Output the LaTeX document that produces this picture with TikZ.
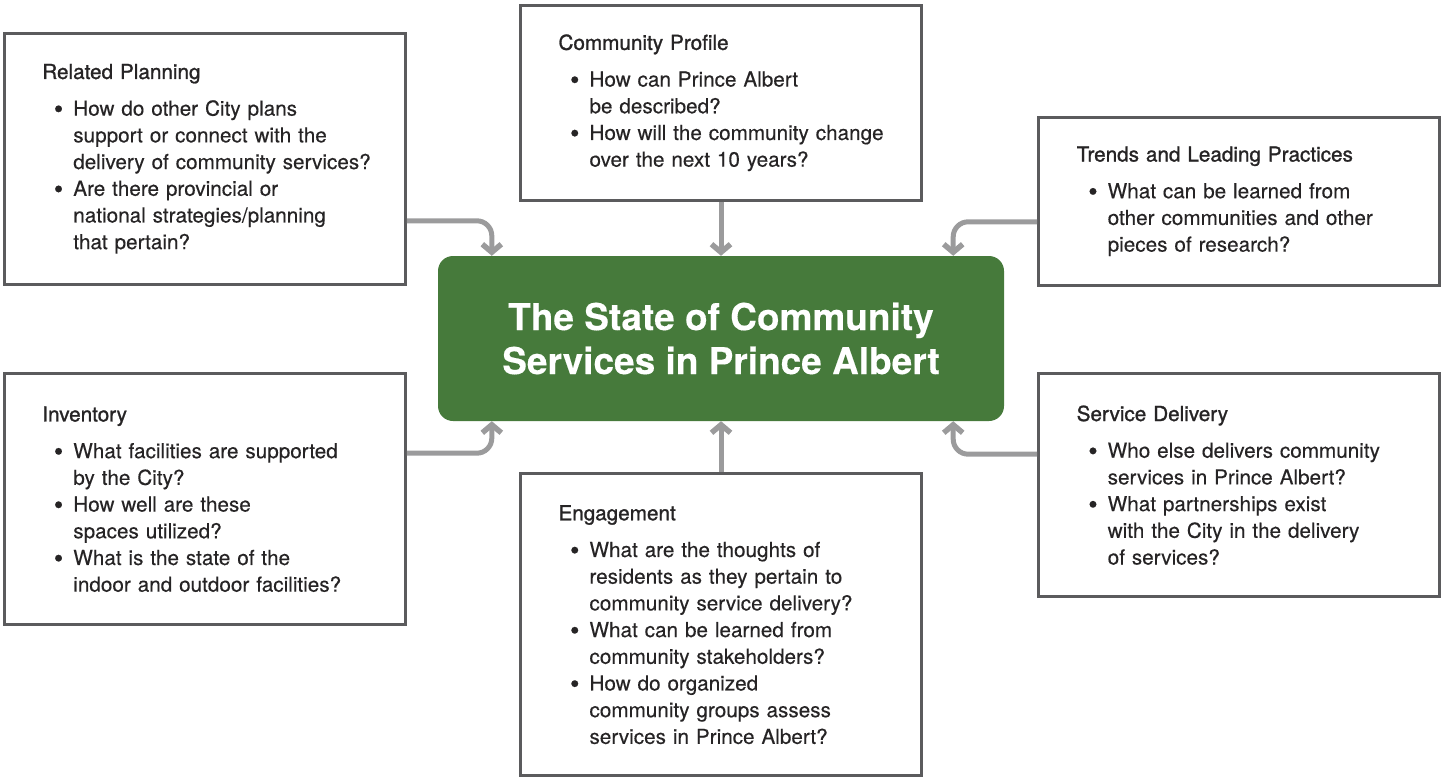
\documentclass[tikz,border=0pt]{standalone}
\usepackage{fontspec}
\setmainfont{TeX Gyre Heros}[FakeBold=0.3]
\newfontfamily\headfont{TeX Gyre Heros}[FakeBold=1.2]
\usepackage{xcolor}
\usepackage{tikz}
\usetikzlibrary{
  arrows.meta,
  positioning,
  calc
}
\definecolor{hubgreen}{HTML}{467A3B}
\definecolor{boxline}{HTML}{5B5B5D}
\definecolor{argray}{HTML}{9B9B9C}
\definecolor{inkgray}{HTML}{262425}
\newcommand{\boxhead}[1]{{\headfont #1}\par\vspace{10pt}}
\newcommand{\qitem}{\par\hangindent=31pt\hangafter=0\noindent
  \llap{\raisebox{-0.12em}{\fontsize{27pt}{0pt}\selectfont\textbullet}\hspace{10pt}}}

\begin{document}
\begin{tikzpicture}[
    x=1pt, y=1pt,
    every node/.style={font=\fontsize{20.7pt}{26.7pt}\selectfont, text=inkgray},
    box/.style={
      draw=boxline,
      line width=3pt,
      align=left,
      text width=345pt,
      minimum width=401pt,
      inner sep=0pt
    },
    hub/.style={
      fill=hubgreen,
      rounded corners=15pt,
      align=center,
      text=white,
      font=\bfseries\fontsize{37pt}{44pt}\selectfont,
      minimum width=566pt,
      minimum height=165pt
    },
    ar/.style={-{Straight Barb[length=8pt,width=19pt,line width=5.5pt]}, line width=5pt, draw=argray, rounded corners=15pt}
  ]
    \useasboundingbox (0,0) rectangle (1442,-778);

    % centre: the state of community services
    \node[hub] (hub) at (721,-338.5) {The State of Community\\Services in Prince Albert};

    % question boxes around the centre
    \node[box, minimum height=195pt, above=54pt of hub] (profile) {\leftskip=10pt
      \boxhead{Community Profile}
      \qitem How can Prince Albert\newline be described?
      \qitem How will the community change\newline over the next 10 years?\par};
    \node[box, minimum height=251pt, above left=-30pt and 31pt of hub.north west] (plan) {\leftskip=10pt
      \boxhead{Related Planning}
      \qitem How do other City plans\newline support or connect with the\newline delivery of community services?
      \qitem Are there provincial or\newline national strategies/planning\newline that pertain?\par};
    \node[box, minimum height=168pt, above right=-31pt and 33pt of hub.north east] (trends) {\leftskip=10pt
      \boxhead{Trends and Leading Practices}
      \qitem What can be learned from\newline other communities and other\newline pieces of research?\par};
    \node[box, minimum height=251pt, below left=-49pt and 31pt of hub.south west] (inventory) {\leftskip=10pt
      \boxhead{Inventory}
      \qitem What facilities are supported\newline by the City?
      \qitem How well are these\newline spaces utilized?
      \qitem What is the state of the\newline indoor and outdoor facilities?\par};
    \node[box, minimum height=223pt, below right=-49pt and 33pt of hub.south east] (service) {\leftskip=10pt
      \boxhead{Service Delivery}
      \qitem Who else delivers community\newline services in Prince Albert?
      \qitem What partnerships exist\newline with the City in the delivery\newline of services?\par};
    \node[box, minimum height=302pt, below=51pt of hub] (engage) {\leftskip=10pt
      \boxhead{Engagement}
      \qitem What are the thoughts of\newline residents as they pertain to\newline community service delivery?
      \qitem What can be learned from\newline community stakeholders?
      \qitem How do organized\newline community groups assess\newline services in Prince Albert?\par};

    % arrows into the centre
    \draw[ar] ($(plan.south east)+(0,65)$) -| ($(hub.north west)+(54,0)$);
    \draw[ar] (profile.south) -- (hub.north);
    \draw[ar] ($(trends.south west)+(0,65)$) -| ($(hub.north east)+(-51,0)$);
    \draw[ar] ($(inventory.north east)+(0,-81)$) -| ($(hub.south west)+(54,0)$);
    \draw[ar] (engage.north) -- (hub.south);
    \draw[ar] ($(service.north west)+(0,-82)$) -| ($(hub.south east)+(-51,0)$);

  \end{tikzpicture}
\end{document}
